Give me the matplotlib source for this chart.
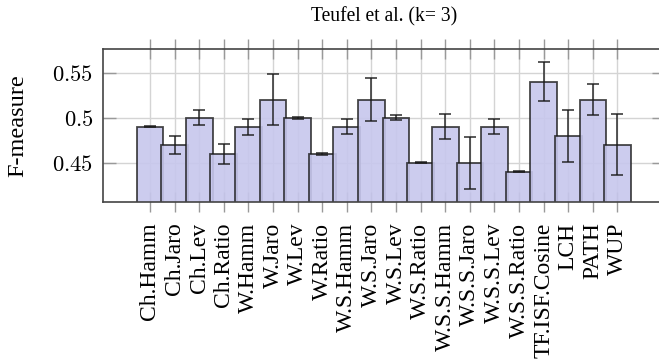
import numpy as np
import matplotlib
matplotlib.use('Agg')
from matplotlib import pyplot as plt

# methods and their F-measure (k=3)
methods = ['Ch.Hamm', 'Ch.Jaro', 'Ch.Lev', 'Ch.Ratio',
           'W.Hamm', 'W.Jaro', 'W.Lev', 'W.Ratio',
           'W.S.Hamm', 'W.S.Jaro', 'W.S.Lev', 'W.S.Ratio',
           'W.S.S.Hamm', 'W.S.S.Jaro', 'W.S.S.Lev', 'W.S.S.Ratio',
           'TF.ISF.Cosine', 'LCH', 'PATH', 'WUP']
fmeasure = [0.49, 0.47, 0.50, 0.46,
            0.49, 0.52, 0.50, 0.46,
            0.49, 0.52, 0.50, 0.45,
            0.49, 0.45, 0.49, 0.44,
            0.54, 0.48, 0.52, 0.47]
errors = [0.0005, 0.010, 0.008, 0.011,
          0.009, 0.028, 0.001, 0.001,
          0.008, 0.024, 0.003, 0.0005,
          0.014, 0.029, 0.008, 0.0005,
          0.022, 0.029, 0.017, 0.034]
yticks = [0.45, 0.5, 0.55]
ytick_labels = ['$0.45$', '$0.5$', '$0.55$']

plt.rcParams['font.family'] = ['Liberation Serif', 'DejaVu Serif']
plt.rcParams['mathtext.fontset'] = 'cm'
plt.rcParams['font.size'] = 17.5

fig = plt.figure(figsize=(6.59, 3.61), dpi=100)
ax = fig.add_axes([0.1563, 0.4413, 0.852, 0.423])

x = np.arange(len(methods))
ax.bar(x, fmeasure, width=1.085, color=(0.78, 0.78, 0.93, 0.9),
       edgecolor=(0.1, 0.1, 0.1, 0.8), linewidth=1.3, zorder=2)
ax.errorbar(x, fmeasure, yerr=errors, fmt='none', ecolor=(0.1, 0.1, 0.1, 0.85),
            elinewidth=1.2, capsize=4.5, capthick=1.2, zorder=3)

ax.set_xlim(-1.91, len(methods) - 1 + 1.91)
ax.set_ylim(0.4067, 0.5763)
ax.set_xticks(x)
ax.set_xticklabels(methods, rotation=90, fontsize=17)
ax.set_yticks(yticks)
ax.set_yticklabels(ytick_labels, fontsize=16.3)

ax.grid(True, color='#d4d4d4', linewidth=1.0, zorder=0)
ax.set_axisbelow(True)
ax.tick_params(axis='x', direction='inout', length=15, width=1, color='#999999',
               top=True, pad=7.5)
ax.tick_params(axis='y', direction='in', length=9, width=1, color='#999999',
               right=True, pad=7)
for s in ax.spines.values():
    s.set_color('#444444')
    s.set_linewidth(1.2)

ax.set_ylabel('F-measure', labelpad=17)
ax.set_title('Teufel et al. (k= 3)', pad=20, fontsize=14.1)

fig.savefig('out.png', dpi=100)
plt.close('all')
